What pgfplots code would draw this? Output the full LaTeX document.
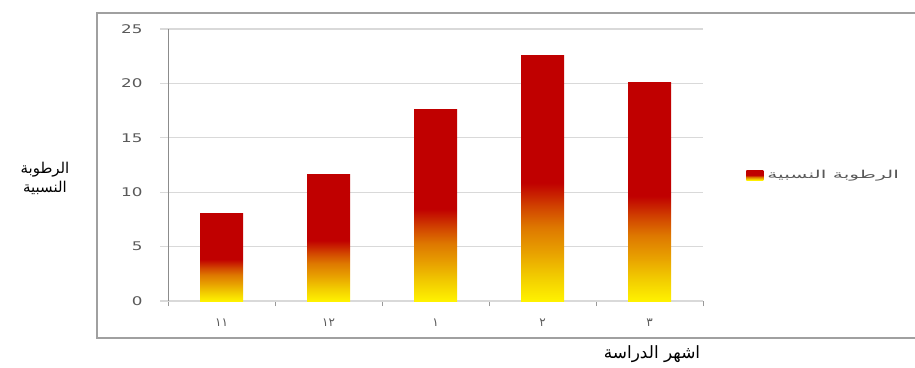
\documentclass[border=0pt]{standalone}
\usepackage{pgfplots}
\pgfplotsset{compat=1.18}
\usepackage{graphicx}
\usepackage{fontspec}
\setmainfont{DejaVu Sans}
\newfontfamily\arabicfont[Script=Arabic]{DejaVu Sans}
\TeXXeTstate=1
\definecolor{barR}{HTML}{C00000}
\definecolor{barY}{HTML}{FFF200}
\definecolor{barA}{HTML}{F2CC00}
\definecolor{barB}{HTML}{E8A000}
\definecolor{barC}{HTML}{DE7800}
\definecolor{barD}{HTML}{D24600}
\definecolor{gridc}{HTML}{D9D9D9}
\definecolor{tickc}{HTML}{595959}
\definecolor{framec}{HTML}{A0A0A0}
\pgfdeclareverticalshading{barshade}{100bp}{color(0bp)=(barY); color(25bp)=(barY); color(30bp)=(barA); color(35bp)=(barB); color(40bp)=(barC); color(44bp)=(barD); color(49bp)=(barR); color(75bp)=(barR); color(100bp)=(barR)}
\begin{document}
\begin{tikzpicture}[x=1bp,y=1bp]
\useasboundingbox (0,0) rectangle (915,367);
\draw[framec, line width=1.6bp] (916,354) -- (97,354) -- (97,29) -- (916,29);
\begin{axis}[
  at={(168bp,66bp)}, anchor=south west,
  scale only axis, width=535bp, height=272bp,
  xmin=-0.5, xmax=4.5, ymin=0, ymax=25,
  axis x line=bottom, axis y line=left,
  axis line style={-},
  x axis line style={gridc, line width=1.2bp},
  y axis line style={gray!90, line width=0.8bp},
  ytick={0,5,...,25},
  ymajorgrids, grid style={gridc, line width=1.2bp},
  tick align=outside,
  y tick style={gridc, line width=1.2bp},
  major tick length=8bp,
  /pgf/number format/assume math mode=true,
  yticklabel style={font=\fontsize{12}{12}\selectfont, text=tickc, xshift=-14bp},
  yticklabel={\scalebox{1.4}[1]{\pgfmathprintnumber{\tick}}},
  xtick={0,...,4},
  xticklabels={١١,١٢,١,٢,٣},
  x tick style={draw=none},
  minor xtick={-0.5,0.5,...,4.5},
  minor x tick style={draw=gray!80, line width=0.8bp},
  minor tick length=5bp,
  xticklabel style={font=\arabicfont\fontsize{12}{12}\selectfont, text=tickc, yshift=-6bp},
  legend style={at={(1.075,0.463)}, anchor=west, draw=none, fill=none,
    font=\arabicfont\fontsize{11}{11}\selectfont, text=tickc},
  legend image code/.code={\path[#1] (0bp,-5bp) rectangle (17bp,5bp);},
  every axis plot/.append style={ybar, bar width=43bp, bar shift=0pt, draw=none, mark=none, shading=barshade},
]
\addplot[mark=none] coordinates {(0,8.0)};
\addlegendentry{\hspace{2bp}\scalebox{1.85}[1]{\beginR الرطوبة النسبية\endR}}
\addplot[forget plot] coordinates {(1,11.6)};
\addplot[forget plot] coordinates {(2,17.6)};
\addplot[forget plot] coordinates {(3,22.6)};
\addplot[forget plot] coordinates {(4,20.1)};
\end{axis}
\node[font=\arabicfont\fontsize{15}{19}\selectfont, align=center] at (45,189) {\beginR الرطوبة\endR\\\beginR النسبية\endR};
\node[font=\arabicfont\fontsize{17}{17}\selectfont] at (652,13) {\beginR اشهر الدراسة\endR};
\end{tikzpicture}
\end{document}
